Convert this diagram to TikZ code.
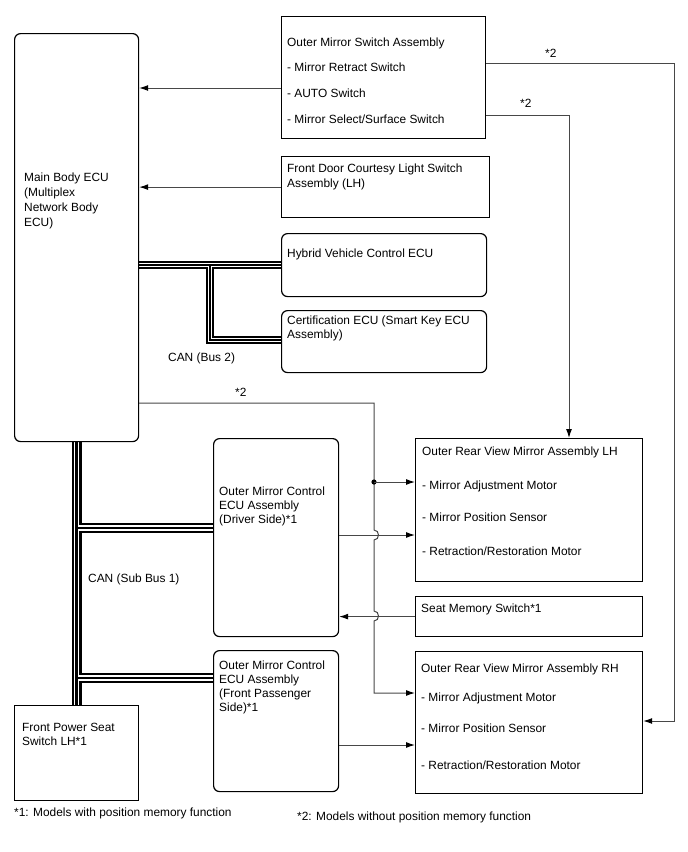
\documentclass[tikz,border=0pt]{standalone}
\usepackage{fontspec}
\setmainfont{Liberation Sans}
\usetikzlibrary{arrows.meta,calc}
\newcommand\tline[4]{\node[txt] (#1) at (#2,#3) {#4};}
\newcommand\busline[2]{%
  \draw[line width=#1pt, black] #2;
  \draw[line width={0.56*#1pt}, white] #2;
  \draw[line width={0.22*#1pt}, black] #2;}
\begin{document}
\begin{tikzpicture}[x=1pt,y=-1pt,
  font=\fontsize{11.9}{14.5}\selectfont,
  box/.style 2 args={draw=black, line width=1.2pt, fill=white, anchor=north west,
    inner sep=0pt, minimum width=#1, minimum height=#2},
  rbox/.style 2 args={box={#1}{#2}, rounded corners=6pt},
  txt/.style={anchor=base west, inner sep=0pt},
  conn/.style={draw=black!72, line width=1pt},
  arr/.style={conn, -{Latex[length=9pt,width=6pt,color=black]}}]
\useasboundingbox (0,0) rectangle (688,852);

% CAN buses
\busline{7.5}{(138,265) -- (281,265) (210,265) |- (281,340)}
\busline{10}{(76.5,441) -- (76.5,705) (76.5,528) -- (213,528) (76.5,678) -- (213,678)}

% boxes
\node[rbox={124pt}{408pt}] (main) at (14,33) {};
\node[box={204pt}{122pt}] (sw) at (281,16) {};
\node[box={208pt}{61pt}] (fd) at (281,156) {};
\node[rbox={205pt}{63pt}] (hv) at (281,233) {};
\node[rbox={205pt}{62pt}] (cert) at (281,310) {};
\node[rbox={125pt}{198pt}] (drv) at (213,438) {};
\node[rbox={125pt}{141pt}] (pas) at (213,650) {};
\node[box={227pt}{143pt}] (lh) at (415,438) {};
\node[box={227pt}{40pt}] (seat) at (415,596) {};
\node[box={227pt}{142pt}] (rh) at (415,651) {};
\node[box={124pt}{95pt}] (fps) at (14,705) {};

% texts
\tline{sw1}{287}{46}{Outer Mirror Switch Assembly}
\tline{sw2}{287}{71}{- Mirror Retract Switch}
\tline{sw3}{287}{97}{- AUTO Switch}
\tline{sw4}{287}{123}{- Mirror Select/Surface Switch}
\tline{m1}{24}{181}{Main Body ECU}
\tline{m2}{24}{196}{(Multiplex}
\tline{m3}{24}{211}{Network Body}
\tline{m4}{24}{226}{ECU)}
\tline{fd1}{287}{172}{Front Door Courtesy Light Switch}
\tline{fd2}{287}{187}{Assembly (LH)}
\tline{hv1}{287}{257}{Hybrid Vehicle Control ECU}
\tline{ce1}{287}{324}{Certification ECU (Smart Key ECU}
\tline{ce2}{287}{338}{Assembly)}
\tline{can2}{168}{361}{CAN (Bus 2)}
\tline{st1}{235}{396}{*2}
\tline{st2}{545}{57}{*2}
\tline{st3}{520}{107}{*2}
\tline{d1}{219}{495}{Outer Mirror Control}
\tline{d2}{219}{509}{ECU Assembly}
\tline{d3}{219}{523}{(Driver Side)*1}
\tline{p1}{219}{669}{Outer Mirror Control}
\tline{p2}{219}{683}{ECU Assembly}
\tline{p3}{219}{697}{(Front Passenger}
\tline{p4}{219}{711}{Side)*1}
\tline{l1}{422}{455}{Outer Rear View Mirror Assembly LH}
\tline{l2}{422}{489}{- Mirror Adjustment Motor}
\tline{l3}{422}{521}{- Mirror Position Sensor}
\tline{l4}{422}{555}{- Retraction/Restoration Motor}
\tline{se1}{421}{612}{Seat Memory Switch*1}
\tline{r1}{421}{672}{Outer Rear View Mirror Assembly RH}
\tline{r2}{421}{701}{- Mirror Adjustment Motor}
\tline{r3}{421}{732}{- Mirror Position Sensor}
\tline{r4}{421}{769}{- Retraction/Restoration Motor}
\tline{f1}{22}{731}{Front Power Seat}
\tline{f2}{22}{745}{Switch LH*1}
\tline{cans}{88}{582}{CAN (Sub Bus 1)}
\tline{fn1}{14}{816}{*1: Models with position memory function}
\tline{fn2}{297}{820}{*2: Models without position memory function}

% connectors
\draw[arr] (sw.west |- 0,88) -- (main.east |- 0,88);
\draw[arr] (fd.west) -- (main.east |- fd.west);
\draw[arr] (sw.east |- 0,115) -| (lh.north -| 569,0);
\draw[arr] (sw.east |- 0,63) -| (674,721) -- (rh.east |- 0,721);
\coordinate (dot) at (374,482);
\draw[arr] (main.east |- 0,403) -| (374,530)
  .. controls (380,530) and (380,540) .. (374,540) -- (374,611)
  .. controls (380,611) and (380,621) .. (374,621) -- (374,693) -- (rh.west |- 0,693);
\fill[black] (dot) circle (2.6pt);
\draw[arr] (dot) -- (lh.west |- dot);
\draw[arr] (drv.east |- 0,535) -- (lh.west |- 0,535);
\draw[arr] (seat.west) -- (drv.east |- seat.west);
\draw[arr] (pas.east |- 0,745) -- (rh.west |- 0,745);
\end{tikzpicture}
\end{document}
